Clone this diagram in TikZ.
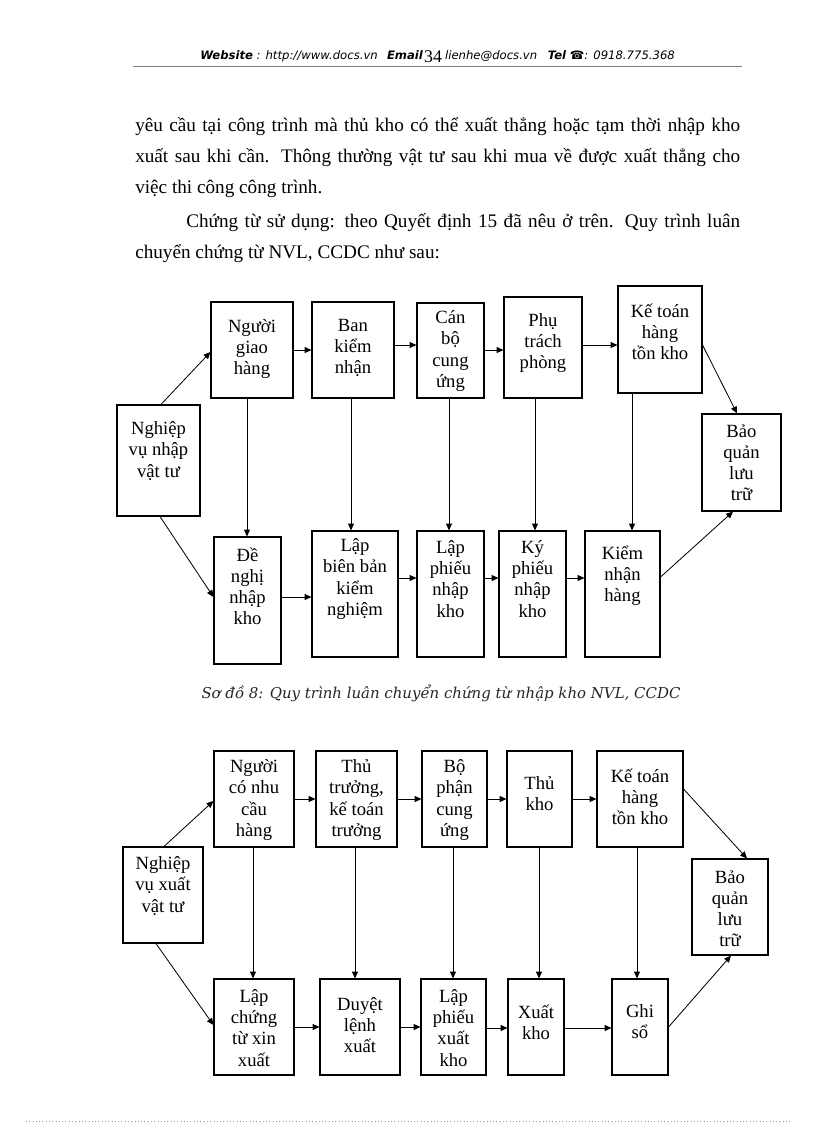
\documentclass[tikz,border=0pt]{standalone}
\usepackage{fontspec}
\setmainfont{Liberation Serif}
\newfontfamily\hdrfont{DejaVu Sans}
\newfontfamily\capfont{DejaVu Serif}
\usetikzlibrary{arrows.meta,fit}

% box: name, x1, y1, x2, y2, text y, text
\newcommand\bx[7]{%
  \node[box, fit={(#2,#3) (#4,#5)}] (#1) {};
  \node[txt] (#1-t) at (#1.center |- 0,#6) {#7};
}

\begin{document}
\begin{tikzpicture}[x=0.7295pt, y=-0.7295pt,
  box/.style={draw, line width=0.8pt, inner sep=0pt},
  txt/.style={align=center, inner sep=0pt, font=\fontsize{13.6pt}{15.4pt}\selectfont},
  arr/.style={line width=0.6pt, -{Triangle[length=5pt,width=4.4pt]}},
  body/.style={anchor=base west, inner sep=0pt, font=\fontsize{14pt}{17pt}\selectfont}]
\useasboundingbox (0,0) rectangle (816,1123);

% Header
\node[anchor=base west, inner sep=0pt, font=\hdrfont\fontsize{8.5pt}{10pt}\selectfont] (hdr) at (200,59)
  {\textbf{\textit{Website}}\textit{ : http://www.docs.vn}\hspace{4pt} \textbf{\textit{Email}}\hspace{16pt}\textit{lienhe@docs.vn}\hspace{5pt}
   \textbf{\textit{Tel}} \textbf{☎}\textit{: 0918.775.368}};
\node[anchor=base, inner sep=0pt, font=\fontsize{13pt}{15pt}\selectfont] (pagenum) at (433,62) {34};
\draw[black!50, line width=0.5pt] (133,66) -- (742,66);

% Text
\node[body] (l1) at (135,131) {\makebox[441.3pt][s]{yêu cầu tại công trình mà thủ kho có thể xuất thẳng hoặc tạm thời nhập kho}};
\node[body] (l2) at (135,162) {\makebox[441.3pt][s]{xuất sau khi cần. Thông thường vật tư sau khi mua về được xuất thẳng cho}};
\node[body] (l3) at (135,193) {việc thi công công trình.};
\node[body] (l4) at (186,227) {\makebox[404.1pt][s]{Chứng từ sử dụng: theo Quyết định 15 đã nêu ở trên. Quy trình luân}};
\node[body] (l5) at (135,258) {chuyển chứng từ NVL, CCDC như sau:};

% Diagram 1: nhap kho
\bx{nvn}{117}{405}{200}{516}{451}{Nghiệp\\vụ nhập\\vật tư}
\bx{giao}{211}{302}{293}{398}{349}{Người\\giao\\hàng}
\bx{ban}{312}{302}{394}{398}{348}{Ban\\kiểm\\nhận}
\bx{canbo}{417}{303}{484}{398}{351}{Cán\\bộ\\cung\\ứng}
\bx{phutrach}{504}{297}{582}{398}{343}{Phụ\\trách\\phòng}
\bx{ketoan}{618}{286}{702}{393}{332}{Kế toán\\hàng\\tồn kho}
\bx{baoquan}{702}{414}{781}{511}{463}{Bảo\\quản\\lưu\\trữ}
\bx{denghi}{214}{537}{281}{664}{586}{Đề\\nghị\\nhập\\kho}
\bx{bienban}{312}{531}{398}{657}{579}{Lập\\biên bản\\kiểm\\nghiệm}
\bx{phieunhap}{417}{531}{484}{657}{579}{Lập\\phiếu\\nhập\\kho}
\bx{kyphieu}{499}{531}{566}{657}{579}{Ký\\phiếu\\nhập\\kho}
\bx{kiemnhan}{585}{531}{660}{657}{576}{Kiểm\\nhận\\hàng}

\draw[arr] (nvn.north -| 161,0) -- (giao.west |- 0,352);
\draw[arr] (nvn.south -| 160,0) -- (denghi.west |- 0,597);
\draw[arr] (giao.east |- 0,350) -- (ban.west |- 0,350);
\draw[arr] (ban.east |- 0,345) -- (canbo.west |- 0,345);
\draw[arr] (canbo.east |- 0,350) -- (phutrach.west |- 0,350);
\draw[arr] (phutrach.east |- 0,345) -- (ketoan.west |- 0,345);
\draw[arr] (ketoan.east |- 0,345) -- (baoquan.north -| 737,0);
\draw[arr] (giao.south -| 247,0) -- (denghi.north -| 247,0);
\draw[arr] (ban.south -| 351,0) -- (bienban.north -| 351,0);
\draw[arr] (canbo.south -| 449,0) -- (phieunhap.north -| 449,0);
\draw[arr] (phutrach.south -| 535,0) -- (kyphieu.north -| 535,0);
\draw[arr] (ketoan.south -| 632,0) -- (kiemnhan.north -| 632,0);
\draw[arr] (denghi.east |- 0,597) -- (bienban.west |- 0,597);
\draw[arr] (bienban.east |- 0,578) -- (phieunhap.west |- 0,578);
\draw[arr] (phieunhap.east |- 0,578) -- (kyphieu.west |- 0,578);
\draw[arr] (kyphieu.east |- 0,578) -- (kiemnhan.west |- 0,578);
\draw[arr] (kiemnhan.east |- 0,577) -- (baoquan.south -| 733,0);

\node[anchor=base, inner sep=0pt, text=black!85, font=\capfont\itshape\fontsize{10.9pt}{12pt}\selectfont] (cap1) at (441,698)
  {Sơ đồ 8: Quy trình luân chuyển chứng từ nhập kho NVL, CCDC};

% Diagram 2: xuat kho
\bx{nvx}{123}{847}{203}{943}{886}{Nghiệp\\vụ xuất\\vật tư}
\bx{nhucau}{214}{751}{294}{847}{800}{Người\\có nhu\\cầu\\hàng}
\bx{thutruong}{316}{751}{397}{847}{800}{Thủ\\trưởng,\\kế toán\\trưởng}
\bx{bophan}{422}{751}{487}{847}{800}{Bộ\\phận\\cung\\ứng}
\bx{thukho}{507}{751}{572}{847}{794}{Thủ\\kho}
\bx{ketoan2}{597}{751}{683}{847}{797}{Kế toán\\hàng\\tồn kho}
\bx{baoquan2}{692}{859}{768}{955}{909}{Bảo\\quản\\lưu\\trữ}
\bx{chungtu}{214}{979}{294}{1075}{1028}{Lập\\chứng\\từ xin\\xuất}
\bx{duyet}{320}{979}{400}{1075}{1025}{Duyệt\\lệnh\\xuất}
\bx{phieuxuat}{421}{979}{486}{1075}{1028}{Lập\\phiếu\\xuất\\kho}
\bx{xuatkho}{508}{979}{564}{1075}{1022}{Xuất\\kho}
\bx{ghiso}{612}{979}{668}{1075}{1022}{Ghi\\sổ}

\draw[arr] (nvx.north -| 164,0) -- (nhucau.west |- 0,801);
\draw[arr] (nvx.south -| 156,0) -- (chungtu.west |- 0,1025);
\draw[arr] (nhucau.east |- 0,799) -- (thutruong.west |- 0,799);
\draw[arr] (thutruong.east |- 0,799) -- (bophan.west |- 0,799);
\draw[arr] (bophan.east |- 0,799) -- (thukho.west |- 0,799);
\draw[arr] (thukho.east |- 0,799) -- (ketoan2.west |- 0,799);
\draw[arr] (ketoan2.east |- 0,789) -- (baoquan2.north -| 747,0);
\draw[arr] (nhucau.south -| 253,0) -- (chungtu.north -| 253,0);
\draw[arr] (thutruong.south -| 355,0) -- (duyet.north -| 355,0);
\draw[arr] (bophan.south -| 453,0) -- (phieuxuat.north -| 453,0);
\draw[arr] (thukho.south -| 539,0) -- (xuatkho.north -| 539,0);
\draw[arr] (ketoan2.south -| 637,0) -- (ghiso.north -| 637,0);
\draw[arr] (chungtu.east |- 0,1027) -- (duyet.west |- 0,1027);
\draw[arr] (duyet.east |- 0,1027) -- (phieuxuat.west |- 0,1027);
\draw[arr] (phieuxuat.east |- 0,1028) -- (xuatkho.west |- 0,1028);
\draw[arr] (xuatkho.east |- 0,1028) -- (ghiso.west |- 0,1028);
\draw[arr] (ghiso.east |- 0,1027) -- (baoquan2.south -| 731,0);

% Footer
\draw[black!40, dotted, line width=0.4pt] (26,1121) -- (790,1121);
\end{tikzpicture}
\end{document}
